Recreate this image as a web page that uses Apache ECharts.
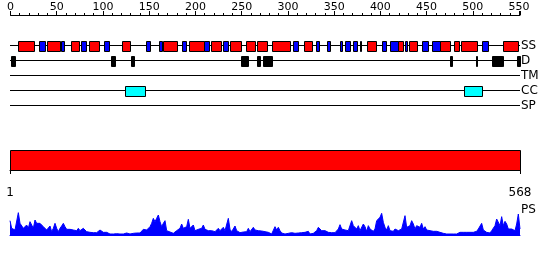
<!DOCTYPE html>
<html>
<head>
<meta charset="utf-8">
<script src="https://cdn.jsdelivr.net/npm/echarts@6/dist/echarts.min.js"></script>
<style>html,body{margin:0;padding:0;background:#fff}#c{width:550px;height:260px}</style>
</head>
<body>
<div id="c"></div>
<script>
// ---- data (positions along the ruler, residue units) ----
const trackNames = ['SS', 'D', 'TM', 'CC', 'SP'];
const rulerMax = 551;
const helix = [[8,25],[40,53],[65,74],[85,96],[121,129],[165,180],[193,209],[217,228],[237,249],[255,264],[267,277],[283,302],[317,326],[386,395],[419,424],[431,440],[464,475],[480,485],[487,504],[533,549]];
const strand = [[31,37],[55,58],[76,82],[101,106],[146,151],[161,164],[186,190],[209,215],[230,235],[306,311],[330,334],[342,345],[356,359],[362,367],[370,375],[378,379],[402,406],[410,419],[427,429],[445,451],[456,464],[510,516]];
const disorder = [[0,5],[109,113],[130,134],[249,257],[267,270],[273,283],[475,477],[503,505],[521,531],[532,533],[548,551]];
const coiledCoil = [[124,145],[490,510]];
const transmembrane = [];
const signalPeptide = [];
const domainBar = [[1,568]];
const seqLength = 568;
const psValues = [43,20,17,15,20,67,35,33,20,20,30,20,40,45,20,45,35,30,35,37,25,20,15,17,27,10,20,35,20,10,20,27,35,25,17,13,17,20,15,17,13,20,13,17,20,15,10,7,8,6,7,9,7,13,15,10,8,10,8,5,3,3,3,3,4,6,3,3,3,4,6,3,3,4,5,5,6,5,6,10,17,13,15,20,25,35,50,40,50,60,40,25,35,43,13,7,9,8,5,7,13,10,20,33,20,15,25,47,20,20,30,13,10,17,15,20,30,17,15,13,15,13,10,10,13,20,13,10,23,13,10,50,17,10,15,27,13,10,7,8,9,7,10,20,10,13,23,15,10,13,10,12,10,10,7,8,5,
3,8,25,15,23,13,6,3,3,3,5,11,7,11,5,3,6,8,7,9,8,5,11,3,3,5,8,13,23,18,13,11,13,8,8,8,7,9,7,13,18,31,18,13,15,11,13,15,43,28,23,18,28,13,11,33,25,11,28,18,15,11,18,43,48,53,65,38,23,15,28,13,18,11,18,23,13,11,18,18,58,23,18,28,43,33,18,28,33,23,35,18,25,15,21,13,15,11,13,11,13,8,11,5,8,3,5,3,4,3,5,3,6,8,6,8,5,8,11,8,11,8,13,11,18,23,35,15,11,8,8,6,13,11,28,48,43,28,55,28,41,33,18,23,18,23,13,33,63,18];

function trackData(list, name) { return list.map(d => [d[0], d[1], name]); }

function boxSeries(list, name, fill) {
  return {
    type: 'custom', xAxisIndex: 0, yAxisIndex: 0,
    data: trackData(list, name),
    encode: { x: [0, 1], y: 2 },
    renderItem: function (params, api) {
      const s = api.coord([api.value(0), api.value(2)]);
      const e = api.coord([api.value(1), api.value(2)]);
      const h = 10;
      const x0 = Math.round(s[0]) + 0.5;
      const x1 = Math.max(Math.round(e[0]) + 0.5, x0 + 1);
      const y0 = Math.round(s[1] - h / 2) + 0.5;
      return { type: 'rect', shape: { x: x0, y: y0, width: x1 - x0, height: h },
        style: { fill: fill, stroke: '#000', lineWidth: 1 } };
    }
  };
}

const chart = echarts.init(document.getElementById('c'), null, { renderer: 'canvas' });
chart.setOption({
  animation: false,
  textStyle: { fontFamily: 'DejaVu Sans' },
  grid: [
    { left: 10.5, top: 38, width: 509.5, height: 75 },
    { left: 10, top: 150, width: 510, height: 20 },
    { left: 10, top: 205, width: 510, height: 30 }
  ],
  xAxis: [
    { gridIndex: 0, type: 'value', position: 'top', offset: 23, min: 0, max: rulerMax, interval: 50,
      axisLine: { show: true, lineStyle: { color: '#000', width: 1 } },
      axisTick: { show: true, length: 4, lineStyle: { color: '#000' } },
      minorTick: { show: true, splitNumber: 5, length: 2, lineStyle: { color: '#000' } },
      axisLabel: { show: true, color: '#000', fontSize: 11, margin: 2, showMaxLabel: false },
      splitLine: { show: false } },
    { gridIndex: 1, type: 'value', position: 'bottom', offset: 11, min: 1, max: seqLength,
      axisLine: { show: true, lineStyle: { color: '#000', width: 1 } },
      axisTick: { show: true, length: 4, customValues: [1, seqLength], lineStyle: { color: '#000' } },
      axisLabel: { show: true, color: '#000', fontSize: 12, margin: 6, customValues: [1, seqLength] },
      splitLine: { show: false } },
    { gridIndex: 2, type: 'category', boundaryGap: false, data: psValues.map((v, i) => String(i)),
      axisLine: { show: true, lineStyle: { color: '#0000ff', width: 1 } },
      axisTick: { show: false }, axisLabel: { show: false }, splitLine: { show: false } }
  ],
  yAxis: [
    { gridIndex: 0, type: 'category', inverse: true, position: 'right', data: trackNames,
      axisLine: { show: false }, axisTick: { show: false }, splitLine: { show: false },
      axisLabel: { show: true, interval: 0, color: '#000', fontSize: 12, margin: 1 } },
    { gridIndex: 1, type: 'value', min: 0, max: 1, show: false },
    { gridIndex: 2, type: 'value', min: 0, max: 90, show: false }
  ],
  graphic: [
    { type: 'text', left: 521, top: 204, style: { text: 'PS', fontSize: 12, fill: '#000', fontFamily: 'DejaVu Sans' } }
  ],
  series: [
    { type: 'custom', xAxisIndex: 0, yAxisIndex: 0,
      data: trackNames.map(n => [0, rulerMax, n]), encode: { x: [0, 1], y: 2 },
      renderItem: function (params, api) {
        const s = api.coord([api.value(0), api.value(2)]);
        const e = api.coord([api.value(1), api.value(2)]);
        const y = Math.floor(s[1]) + 0.5;
        return { type: 'line', shape: { x1: s[0] - 0.5, y1: y, x2: e[0], y2: y }, style: { stroke: '#000', lineWidth: 1 } };
      } },
    boxSeries(helix, 'SS', '#ff0000'),
    boxSeries(strand, 'SS', '#0000ff'),
    boxSeries(disorder, 'D', '#000000'),
    boxSeries(transmembrane, 'TM', '#ffff00'),
    boxSeries(coiledCoil, 'CC', '#00ffff'),
    boxSeries(signalPeptide, 'SP', '#00ff00'),
    { type: 'custom', xAxisIndex: 1, yAxisIndex: 1, data: domainBar, encode: { x: [0, 1] },
      renderItem: function (params, api) {
        const s = api.coord([api.value(0), 1]);
        const e = api.coord([api.value(1), 0]);
        return { type: 'rect', shape: { x: Math.round(s[0]) + 0.5, y: Math.round(s[1]) + 0.5, width: Math.round(e[0]) - Math.round(s[0]), height: Math.round(e[1]) - Math.round(s[1]) },
          style: { fill: '#ff0000', stroke: '#000', lineWidth: 1 } };
      } },
    { type: 'line', xAxisIndex: 2, yAxisIndex: 2, data: psValues, showSymbol: false, symbol: 'none',
      lineStyle: { color: '#0000ff', width: 1 }, areaStyle: { color: '#0000ff', opacity: 1 } }
  ]
});
</script>
</body>
</html>
